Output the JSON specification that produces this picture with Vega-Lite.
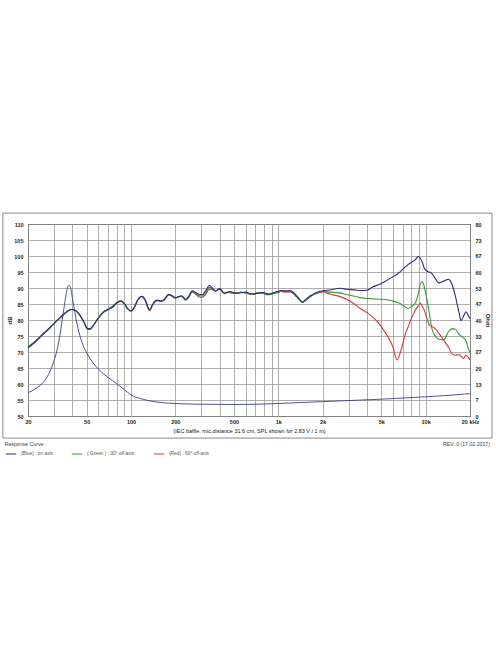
{
"$schema":"https://vega.github.io/schema/vega-lite/v6.json",
"width":442,"height":192,
"autosize":{"type":"none"},
"padding":{"left":28,"top":224,"right":26,"bottom":248},
"background":"white",
"config":{"view":{"stroke":"#222","strokeWidth":1},
"axis":{"labelFont":"Liberation Sans","titleFont":"Liberation Sans","labelFontSize":5.5,"labelFontWeight":"bold","labelColor":"#222","titleColor":"#222","domain":false,"ticks":false,"gridColor":"#999","gridOpacity":1,"gridWidth":0.8}},
"datasets":{
"spl":[
{"f":20,"Blue":71.3,"Green":71.7,"Red":71.6},{"f":22,"Blue":72.8,"Green":73.1,"Red":73.0},{"f":25,"Blue":75.3,"Green":75.5,"Red":75.5},{"f":28,"Blue":77.4,"Green":77.5,"Red":77.5},{"f":30,"Blue":78.8,"Green":78.9,"Red":78.9},{"f":32,"Blue":80.1,"Green":80.2,"Red":80.2},{"f":35,"Blue":81.8,"Green":81.8,"Red":81.8},{"f":37.5,"Blue":82.9,"Green":82.9,"Red":82.9},{"f":39.6,"Blue":83.3,"Green":83.3,"Red":83.3},{"f":42,"Blue":83.0,"Green":83.0,"Red":83.0},{"f":45,"Blue":81.5,"Green":81.5,"Red":81.5},{"f":48,"Blue":79.3,"Green":79.2,"Red":79.2},{"f":51,"Blue":77.3,"Green":77.0,"Red":77.0},{"f":53,"Blue":77.3,"Green":77.1,"Red":77.1},{"f":56,"Blue":78.6,"Green":78.5,"Red":78.5},{"f":61,"Blue":81.0,"Green":81.1,"Red":81.1},{"f":65,"Blue":82.4,"Green":82.6,"Red":82.5},{"f":70,"Blue":83.3,"Green":83.4,"Red":83.2},{"f":75,"Blue":84.0,"Green":84.2,"Red":84.3},{"f":80,"Blue":85.2,"Green":85.4,"Red":85.5},{"f":85,"Blue":85.9,"Green":86.0,"Red":86.0},{"f":90,"Blue":85.2,"Green":85.0,"Red":85.1},{"f":95,"Blue":83.6,"Green":83.4,"Red":83.5},{"f":100,"Blue":82.8,"Green":82.7,"Red":82.8},{"f":105,"Blue":83.8,"Green":83.9,"Red":83.8},{"f":112,"Blue":86.5,"Green":86.6,"Red":86.5},{"f":118,"Blue":87.4,"Green":87.4,"Red":87.3},{"f":125,"Blue":86.3,"Green":86.2,"Red":86.1},{"f":130,"Blue":84.2,"Green":84.0,"Red":83.8},{"f":134,"Blue":83.3,"Green":83.0,"Red":82.9},{"f":140,"Blue":84.8,"Green":84.7,"Red":84.6},{"f":150,"Blue":86.2,"Green":86.1,"Red":86.0},{"f":160,"Blue":86.0,"Green":85.8,"Red":85.9},{"f":168,"Blue":86.4,"Green":86.3,"Red":86.2},{"f":180,"Blue":88.0,"Green":87.8,"Red":87.9},{"f":190,"Blue":87.6,"Green":87.5,"Red":87.4},{"f":200,"Blue":87.0,"Green":86.8,"Red":86.9},{"f":210,"Blue":87.3,"Green":87.2,"Red":87.2},{"f":220,"Blue":87.6,"Green":87.5,"Red":87.4},{"f":235,"Blue":86.5,"Green":86.2,"Red":86.3},{"f":248,"Blue":87.6,"Green":87.4,"Red":87.2},{"f":260,"Blue":89.1,"Green":88.9,"Red":88.8},{"f":275,"Blue":88.6,"Green":88.2,"Red":88.0},{"f":290,"Blue":88.0,"Green":87.6,"Red":87.2},{"f":305,"Blue":87.9,"Green":87.5,"Red":87.1},{"f":320,"Blue":89.0,"Green":88.4,"Red":87.9},{"f":340,"Blue":90.8,"Green":90.2,"Red":89.6},{"f":360,"Blue":89.8,"Green":89.6,"Red":89.4},{"f":375,"Blue":89.0,"Green":89.1,"Red":89.2},{"f":400,"Blue":89.8,"Green":89.7,"Red":89.6},{"f":430,"Blue":88.4,"Green":88.3,"Red":88.2},{"f":450,"Blue":88.6,"Green":88.7,"Red":88.6},{"f":470,"Blue":88.9,"Green":88.7,"Red":88.5},{"f":500,"Blue":88.5,"Green":88.3,"Red":88.4},{"f":520,"Blue":88.3,"Green":88.4,"Red":88.5},{"f":560,"Blue":88.5,"Green":88.6,"Red":88.7},{"f":600,"Blue":88.7,"Green":88.5,"Red":88.4},{"f":640,"Blue":88.3,"Green":88.1,"Red":88.2},{"f":680,"Blue":88.1,"Green":88.2,"Red":88.0},{"f":720,"Blue":88.4,"Green":88.5,"Red":88.4},{"f":790,"Blue":88.6,"Green":88.4,"Red":88.3},{"f":830,"Blue":88.3,"Green":88.0,"Red":87.9},{"f":870,"Blue":88.1,"Green":87.9,"Red":88.0},{"f":920,"Blue":88.5,"Green":88.2,"Red":88.3},{"f":980,"Blue":88.9,"Green":88.6,"Red":88.5},{"f":1050,"Blue":89.2,"Green":89.0,"Red":88.9},{"f":1120,"Blue":89.1,"Green":88.9,"Red":88.7},{"f":1200,"Blue":89.2,"Green":89.0,"Red":88.8},{"f":1270,"Blue":88.6,"Green":88.3,"Red":88.2},{"f":1330,"Blue":87.6,"Green":87.3,"Red":87.2},{"f":1400,"Blue":86.4,"Green":86.2,"Red":86.1},{"f":1460,"Blue":85.6,"Green":85.5,"Red":85.5},{"f":1550,"Blue":86.6,"Green":86.4,"Red":86.3},{"f":1680,"Blue":87.8,"Green":87.6,"Red":87.5},{"f":1800,"Blue":88.5,"Green":88.3,"Red":88.2},{"f":1900,"Blue":88.9,"Green":88.7,"Red":88.6},
{"f":2000,"Blue":89.1,"Green":88.9,"Red":88.8},{"f":2240,"Blue":89.4,"Green":88.7,"Red":88.1},{"f":2630,"Blue":89.9,"Green":88.4,"Red":87.3},{"f":2930,"Blue":89.6,"Green":87.9,"Red":86.4},{"f":3300,"Blue":89.4,"Green":87.4,"Red":84.9},{"f":3600,"Blue":89.2,"Green":87.0,"Red":83.6},{"f":4000,"Blue":89.3,"Green":86.7,"Red":82.3},{"f":4400,"Blue":90.4,"Green":86.6,"Red":80.8},{"f":4900,"Blue":91.2,"Green":86.5,"Red":78.5},{"f":5300,"Blue":92.0,"Green":86.4,"Red":76.2},{"f":5740,"Blue":93.0,"Green":86.1,"Red":73.5},{"f":6000,"Blue":93.5,"Green":85.9,"Red":71.5},{"f":6400,"Blue":94.3,"Green":85.5,"Red":67.5},{"f":6800,"Blue":95.3,"Green":85.0,"Red":70.5},{"f":7300,"Blue":96.7,"Green":84.0,"Red":75.8},{"f":7600,"Blue":97.3,"Green":83.6,"Red":77.8},{"f":8000,"Blue":98.0,"Green":84.2,"Red":80.5},{"f":8500,"Blue":98.8,"Green":85.3,"Red":83.0},{"f":8900,"Blue":99.8,"Green":88.0,"Red":84.4},{"f":9200,"Blue":99.3,"Green":91.2,"Red":85.2},{"f":9500,"Blue":98.0,"Green":92.0,"Red":84.3},{"f":9800,"Blue":96.2,"Green":90.3,"Red":83.0},{"f":10200,"Blue":95.3,"Green":86.5,"Red":80.5},{"f":10600,"Blue":95.0,"Green":82.0,"Red":78.4},{"f":11000,"Blue":94.6,"Green":77.5,"Red":78.0},{"f":11600,"Blue":93.0,"Green":75.0,"Red":77.3},{"f":12300,"Blue":91.6,"Green":74.0,"Red":75.8},{"f":13300,"Blue":92.2,"Green":73.8,"Red":73.6},{"f":14300,"Blue":92.7,"Green":76.4,"Red":71.5},{"f":15200,"Blue":90.8,"Green":77.3,"Red":69.3},{"f":16000,"Blue":87.0,"Green":77.0,"Red":69.0},{"f":16900,"Blue":82.0,"Green":75.4,"Red":69.2},{"f":17400,"Blue":79.8,"Green":75.0,"Red":68.6},{"f":18000,"Blue":81.0,"Green":74.5,"Red":68.0},{"f":18800,"Blue":82.6,"Green":73.5,"Red":69.0},{"f":19500,"Blue":81.3,"Green":71.0,"Red":68.3},{"f":20000,"Blue":80.5,"Green":69.8,"Red":67.5}
],
"imp":[
{"f":20,"ohm":9.7},{"f":22,"ohm":11},{"f":24,"ohm":12.6},{"f":26,"ohm":14.8},{"f":28,"ohm":18.2},{"f":30,"ohm":23},{"f":31.5,"ohm":27.5},{"f":33,"ohm":34},{"f":34.5,"ohm":42},{"f":35.6,"ohm":47.5},{"f":36.6,"ohm":52},{"f":37.6,"ohm":54.3},{"f":38.4,"ohm":54.2},{"f":39.2,"ohm":52.5},{"f":40.3,"ohm":48},{"f":41.5,"ohm":43.5},{"f":43,"ohm":38.5},{"f":45,"ohm":33.5},{"f":48,"ohm":28.5},{"f":51,"ohm":25.5},{"f":55,"ohm":22.3},{"f":60,"ohm":19.6},{"f":65,"ohm":17.6},{"f":70,"ohm":16},{"f":80,"ohm":13.5},{"f":90,"ohm":11},{"f":100,"ohm":8.8},{"f":120,"ohm":7},{"f":150,"ohm":5.8},{"f":200,"ohm":5.2},{"f":300,"ohm":4.9},{"f":500,"ohm":4.8},{"f":800,"ohm":5},{"f":1000,"ohm":5.2},{"f":2000,"ohm":6},{"f":5000,"ohm":7},{"f":10000,"ohm":8},{"f":15000,"ohm":8.7},{"f":20000,"ohm":9.3}
]
},
"layer":[
{"data":{"name":"spl"},"transform":[{"fold":["Red","Green","Blue"],"as":["s","db"]}],
"mark":{"type":"line","strokeWidth":1.1,"interpolate":"monotone"},
"encoding":{
"x":{"field":"f","type":"quantitative","scale":{"type":"log","domain":[20,20000],"nice":false},
"axis":{"values":[20,30,40,50,60,70,80,90,100,200,300,400,500,600,700,800,900,1000,2000,3000,4000,5000,6000,7000,8000,9000,10000,20000],"grid":true,"labelOverlap":false,"labelFlush":false,"labelPadding":3,
"labelExpr":"datum.value==20?'20':datum.value==50?'50':datum.value==100?'100':datum.value==200?'200':datum.value==500?'500':datum.value==1000?'1k':datum.value==2000?'2k':datum.value==5000?'5k':datum.value==10000?'10k':datum.value==20000?'20 kHz':''",
"title":"(IEC baffle, mic.distance 31.6 cm, SPL shown for 2.83 V / 1 m)","titleFontSize":5.5,"titleFontWeight":"normal","titlePadding":4}},
"y":{"field":"db","type":"quantitative","scale":{"domain":[50,110],"nice":false,"zero":false},
"axis":{"values":[50,55,60,65,70,75,80,85,90,95,100,105,110],"grid":true,"labelOverlap":false,"title":"dB","titleFontSize":6,"titleFontWeight":"bold","titlePadding":1,"labelPadding":5}},
"color":{"field":"s","type":"nominal","scale":{"domain":["Blue","Green","Red"],"range":["#2b2d7c","#3a9a3a","#d23a3a"]},
"legend":{"orient":"none","legendX":-23,"legendY":224,"direction":"horizontal","title":null,"symbolType":"stroke","symbolSize":110,"symbolStrokeWidth":1,"labelFontSize":4.8,"labelColor":"#555","labelFont":"Liberation Sans","columnPadding":16,"padding":0,
"labelExpr":"datum.label=='Blue'?'(Blue) : on axis':datum.label=='Green'?'( Green ) : 30° off-axis':'(Red) : 60° off-axis'"}}
}},
{"data":{"values":[{}]},"mark":{"type":"rect","fillOpacity":0,"stroke":"#888","strokeWidth":1},
"encoding":{"x":{"datum":13.5,"type":"quantitative"},"x2":{"datum":28200},"y":{"datum":113.4,"type":"quantitative","scale":{"domain":[50,110],"nice":false,"zero":false},"axis":null},"y2":{"datum":43.1}}},
{"data":{"values":[{}]},"mark":{"type":"text","text":"Response Curve :","align":"left","baseline":"middle","fontSize":5.2,"font":"Liberation Sans","color":"#444"},
"encoding":{"x":{"datum":13.9,"type":"quantitative"},"y":{"datum":41.25,"type":"quantitative","scale":{"domain":[50,110],"nice":false,"zero":false},"axis":null}}},
{"data":{"values":[{}]},"mark":{"type":"text","text":"REV. 0 (17.02.2017)","align":"right","baseline":"middle","fontSize":5.2,"font":"Liberation Sans","color":"#444"},
"encoding":{"x":{"datum":27300,"type":"quantitative"},"y":{"datum":41.25,"type":"quantitative","scale":{"domain":[50,110],"nice":false,"zero":false},"axis":null}}},
{"data":{"name":"imp"},"mark":{"type":"line","strokeWidth":0.9,"color":"#3b3f8c","interpolate":"monotone"},
"encoding":{"x":{"field":"f","type":"quantitative","scale":{"type":"log","domain":[20,20000],"nice":false}},
"y":{"field":"ohm","type":"quantitative","scale":{"domain":[0,80],"nice":false,"zero":false},
"axis":{"orient":"right","values":[0,6.6667,13.3333,20,26.6667,33.3333,40,46.6667,53.3333,60,66.6667,73.3333,80],"format":".0f","grid":false,"labelOverlap":false,"title":"Ohm","titleFontSize":6,"titleFontWeight":"bold","titlePadding":3,"labelPadding":5}}}}
],
"resolve":{"scale":{"y":"independent"}}
}
